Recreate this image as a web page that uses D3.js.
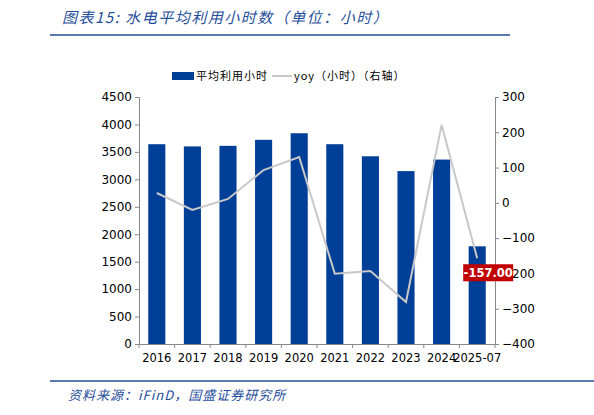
<!DOCTYPE html><html><head><meta charset="utf-8"><script src="https://cdn.jsdelivr.net/npm/d3@7"></script>
<style>body{margin:0;background:#fff}text{font-family:Verdana,"DejaVu Sans","Noto Sans CJK SC",sans-serif}</style></head><body>
<svg id="c" width="594" height="415"></svg>
<script>
const categories=["2016","2017","2018","2019","2020","2021","2022","2023","2024","2025-07"];
const hours=[3640,3600,3610,3720,3840,3640,3420,3150,3360,1780];
const yoy=[28,-20,11,93,130,-201,-193,-281,221,-157];
const leftTicks=[0,500,1000,1500,2000,2500,3000,3500,4000,4500];
const rightTicks=[-400,-300,-200,-100,0,100,200,300];
const svg=d3.select("#c");
const L=139,R=495,T=97,B=344;
const x=d3.scaleBand().domain(categories).range([L,R]).paddingInner(0.52).paddingOuter(0.26);
const y=d3.scaleLinear().domain([0,4500]).range([B,T]);
const y2=d3.scaleLinear().domain([-400,300]).range([B,T]);
const cjk='"Noto Sans CJK SC",sans-serif';
svg.append("text").attr("x",62).attr("y",23).attr("fill","#1f4e9a").attr("font-size",15).attr("font-style","italic").attr("letter-spacing",1.5).style("font-family",cjk).text("图表15:  水电平均利用小时数（单位：小时）");
svg.append("line").attr("x1",50).attr("x2",510).attr("y1",35).attr("y2",35).attr("stroke","#1f4e9a").attr("stroke-width",1.5);
svg.append("line").attr("x1",50).attr("x2",594).attr("y1",381).attr("y2",381).attr("stroke","#1f4e9a").attr("stroke-width",1.5);
svg.append("text").attr("x",68).attr("y",400).attr("fill","#1f4e9a").attr("font-size",13).attr("font-style","italic").attr("letter-spacing",1).style("font-family",cjk).text("资料来源：iFinD，国盛证券研究所");
// legend
svg.append("rect").attr("x",172).attr("y",72).attr("width",22).attr("height",8).attr("fill","#003f98");
svg.append("text").attr("x",196).attr("y",80).attr("font-size",11).attr("letter-spacing",1).style("font-family",cjk).text("平均利用小时");
svg.append("line").attr("x1",272).attr("x2",292).attr("y1",76).attr("y2",76).attr("stroke","#c8c8c8").attr("stroke-width",2);
svg.append("text").attr("x",294).attr("y",80).attr("font-size",11).attr("letter-spacing",1).style("font-family",cjk).text("yoy（小时）（右轴）");
// axes
const fmt=d3.format("d");
const gl=svg.append("g").attr("transform",`translate(${L},0)`).call(d3.axisLeft(y).tickValues(leftTicks).tickFormat(fmt).tickSize(4));
const gr=svg.append("g").attr("transform",`translate(${R},0)`).call(d3.axisRight(y2).tickValues(rightTicks).tickFormat(fmt).tickSize(4));
const gb=svg.append("g").attr("transform",`translate(0,${B})`).call(d3.axisBottom(x).tickSize(0).tickPadding(10));
[gl,gr,gb].forEach(g=>{g.selectAll("path,line").attr("stroke","#888");g.selectAll("text").attr("font-size",12).attr("fill","#000")});
gb.selectAll("text").attr("font-size",11.5);
const cw=(R-L)/categories.length;
svg.append("g").selectAll("line").data(d3.range(categories.length+1)).join("line")
 .attr("x1",i=>L+i*cw).attr("x2",i=>L+i*cw)
 .attr("y1",B).attr("y2",B+4).attr("stroke","#888");
svg.append("g").selectAll("rect").data(hours).join("rect")
 .attr("x",(d,i)=>x(categories[i])).attr("width",x.bandwidth()).attr("y",d=>y(d)).attr("height",d=>B-y(d)).attr("fill","#003f98");
svg.append("path").datum(yoy).attr("fill","none").attr("stroke","#c8c8c8").attr("stroke-width",2)
 .attr("d",d3.line().x((d,i)=>x(categories[i])+x.bandwidth()/2).y(d=>y2(d)));
const lx=x(categories[9])+x.bandwidth()/2, ly=y2(-157);
svg.append("rect").attr("x",lx-14).attr("y",ly+6).attr("width",50).attr("height",17).attr("fill","#c00000");
svg.append("text").attr("x",lx+11).attr("y",ly+19).attr("text-anchor","middle").attr("fill","#fff").attr("font-weight","bold").attr("font-size",11.5).text("-157.00");
</script></body></html>
